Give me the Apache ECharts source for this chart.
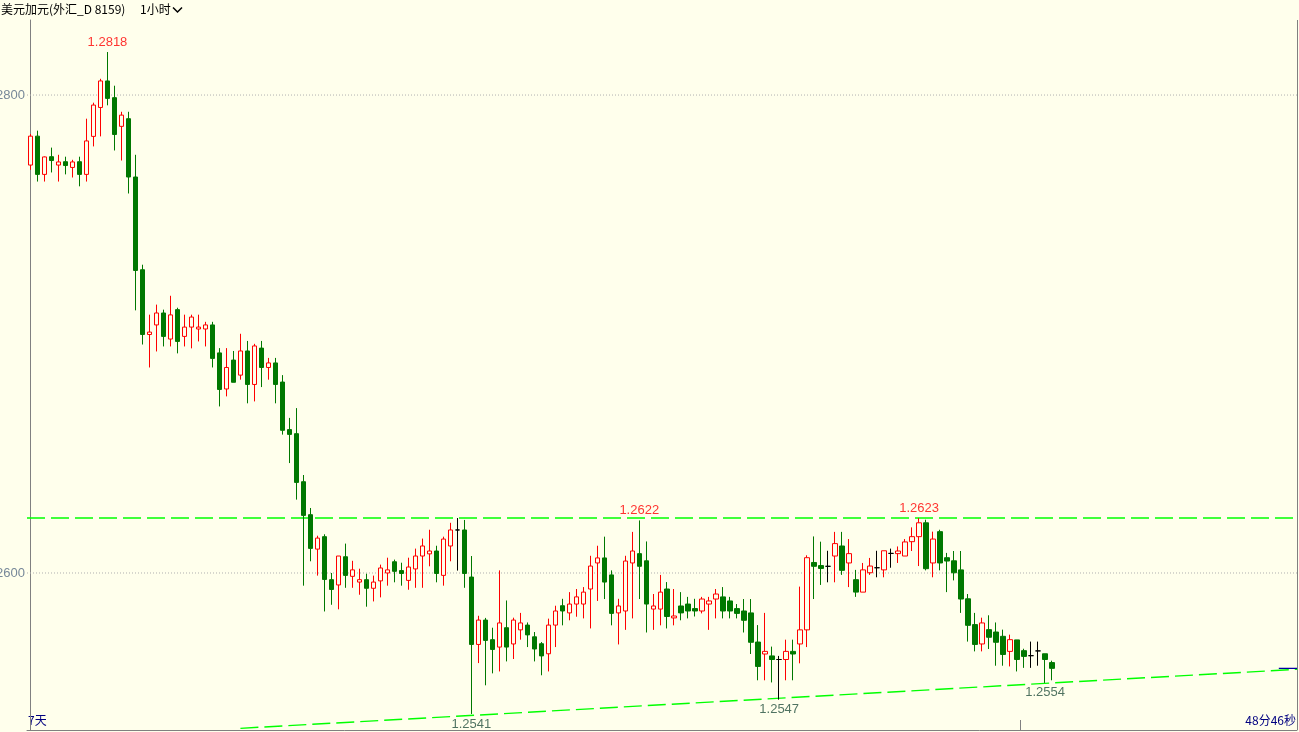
<!DOCTYPE html>
<html><head><meta charset="utf-8">
<script src="https://cdn.jsdelivr.net/npm/echarts@6/dist/echarts.min.js"></script>
<style>html,body{margin:0;padding:0;background:#FFFFEC;}#c{width:1299px;height:732px;}</style>
</head><body><div id="c"></div>
<script>
// ---- data (USD/CAD, 1 hour candles) ----
const opens = [
1.27707,1.27828,1.27668,1.27742,1.27707,1.27721,1.27697,1.27721,1.27668,1.27827,
1.27948,1.28059,1.27989,1.27869,1.27901,1.27657,1.27269,1.26998,1.27038,1.27088,
1.26979,1.27102,1.26990,1.27029,1.27021,1.27021,1.27038,1.26921,1.26770,1.26891,
1.26828,1.26929,1.26789,1.26941,1.26860,1.26879,1.26799,1.26600,1.26583,1.26382,
1.26244,1.26100,1.26152,1.25972,1.25950,1.26068,1.25986,1.25962,1.25972,1.25936,
1.25967,1.26000,1.26047,1.26010,1.25969,1.26017,1.26071,1.26080,1.26092,1.25990,
1.26113,1.26180,1.26180,1.25983,1.25701,1.25803,1.25721,1.25690,1.25771,1.25703,
1.25762,1.25782,1.25733,1.25704,1.25662,1.25782,1.25863,1.25833,1.25870,1.25870,
1.25933,1.26042,1.26063,1.25992,1.25833,1.25841,1.26042,1.26081,1.26051,1.25849,
1.25849,1.25933,1.25812,1.25862,1.25870,1.25851,1.25841,1.25870,1.25891,1.25900,
1.25883,1.25851,1.25841,1.25833,1.25711,1.25661,1.25653,1.25638,1.25638,1.25672,
1.25703,1.25762,1.26044,1.26031,1.26028,1.26071,1.26113,1.26042,1.25972,1.25920,
1.26001,1.26022,1.26013,1.26082,1.26081,1.26071,1.26131,1.26152,1.26210,1.26042,
1.26173,1.26064,1.26051,1.26013,1.25892,1.25784,1.25703,1.25763,1.25753,1.25735,
1.25672,1.25720,1.25675,1.25654,1.25674,1.25662,1.25625];
const closes = [
1.27828,1.27668,1.27741,1.27726,1.27720,1.27705,1.27720,1.27668,1.27808,1.27958,
1.28059,1.27986,1.27835,1.27916,1.27657,1.27266,1.26998,1.27008,1.27088,1.26990,
1.27080,1.26969,1.27029,1.27071,1.27029,1.27038,1.26898,1.26768,1.26860,1.26798,
1.26929,1.26789,1.26950,1.26860,1.26879,1.26789,1.26597,1.26580,1.26379,1.26241,
1.26103,1.26146,1.25973,1.25931,1.26071,1.25990,1.26013,1.25972,1.25936,1.25962,
1.26021,1.26013,1.26007,1.25998,1.26025,1.26071,1.26113,1.26092,1.25998,1.26142,
1.26180,1.26180,1.25998,1.25701,1.25803,1.25718,1.25680,1.25791,1.25690,1.25803,
1.25791,1.25741,1.25682,1.25653,1.25782,1.25841,1.25841,1.25870,1.25900,1.25920,
1.26029,1.26063,1.25962,1.25831,1.25862,1.26050,1.26092,1.26028,1.25870,1.25862,
1.25920,1.25818,1.25820,1.25833,1.25841,1.25841,1.25891,1.25883,1.25912,1.25841,
1.25841,1.25831,1.25802,1.25710,1.25609,1.25672,1.25638,1.25638,1.25672,1.25661,
1.25762,1.26064,1.26028,1.26019,1.26028,1.26123,1.26011,1.26081,1.25920,1.26013,
1.26029,1.26022,1.26093,1.26082,1.26092,1.26130,1.26152,1.26210,1.26018,1.26142,
1.26042,1.26050,1.26001,1.25891,1.25781,1.25701,1.25791,1.25731,1.25710,1.25659,
1.25721,1.25638,1.25651,1.25654,1.25674,1.25638,1.25601];
const lows = [
1.27687,1.27638,1.27638,1.27676,1.27638,1.27668,1.27655,1.27618,1.27638,1.27785,
1.27827,1.27957,1.27768,1.27726,1.27588,1.27099,1.26956,1.26860,1.26927,1.26948,
1.26948,1.26919,1.26948,1.26940,1.26969,1.26948,1.26860,1.26697,1.26739,1.26798,
1.26809,1.26710,1.26718,1.26778,1.26809,1.26710,1.26579,1.26460,1.26307,1.25947,
1.26049,1.25989,1.25839,1.25867,1.25848,1.25938,1.25938,1.25909,1.25859,1.25881,
1.25898,1.25947,1.25961,1.25947,1.25930,1.25938,1.25938,1.26028,1.25961,1.25947,
1.26049,1.26010,1.25938,1.25410,1.25623,1.25530,1.25580,1.25588,1.25630,1.25640,
1.25721,1.25690,1.25630,1.25572,1.25588,1.25690,1.25781,1.25802,1.25817,1.25810,
1.25768,1.25883,1.25891,1.25781,1.25701,1.25762,1.25810,1.25891,1.25751,1.25762,
1.25781,1.25768,1.25781,1.25802,1.25810,1.25818,1.25831,1.25762,1.25810,1.25810,
1.25810,1.25810,1.25751,1.25661,1.25551,1.25551,1.25542,1.25470,1.25551,1.25551,
1.25622,1.25690,1.25891,1.25950,1.25961,1.25961,1.25992,1.25941,1.25900,1.25920,
1.25992,1.25982,1.25982,1.26022,1.26042,1.26071,1.26092,1.26029,1.26011,1.25982,
1.26011,1.25920,1.25969,1.25833,1.25713,1.25672,1.25672,1.25682,1.25612,1.25612,
1.25609,1.25588,1.25603,1.25603,1.25612,1.25540,1.25551];
const highs = [
1.27837,1.27851,1.27743,1.27780,1.27750,1.27742,1.27729,1.27742,1.27901,1.27968,
1.28068,1.28180,1.28039,1.27930,1.27930,1.27750,1.27290,1.27081,1.27123,1.27102,
1.27160,1.27110,1.27081,1.27081,1.27081,1.27051,1.27051,1.26941,1.26941,1.26929,
1.27001,1.26971,1.26959,1.26971,1.26900,1.26900,1.26828,1.26649,1.26690,1.26410,
1.26272,1.26156,1.26162,1.26000,1.26071,1.26123,1.26051,1.26018,1.25997,1.25989,
1.26035,1.26064,1.26056,1.26043,1.26064,1.26102,1.26144,1.26181,1.26114,1.26152,
1.26210,1.26230,1.26222,1.26071,1.25821,1.25812,1.25771,1.26011,1.25885,1.25813,
1.25833,1.25793,1.25753,1.25711,1.25809,1.25863,1.25892,1.25920,1.25933,1.25941,
1.26072,1.26114,1.26152,1.26011,1.25892,1.26072,1.26172,1.26220,1.26132,1.25912,
1.25992,1.25962,1.25933,1.25920,1.25900,1.25892,1.25900,1.25900,1.25933,1.25941,
1.25900,1.25870,1.25891,1.25891,1.25782,1.25833,1.25692,1.25653,1.25721,1.25721,
1.25943,1.26074,1.26153,1.26131,1.26093,1.26172,1.26172,1.26142,1.26013,1.26042,
1.26063,1.26093,1.26093,1.26102,1.26111,1.26142,1.26191,1.26230,1.26223,1.26173,
1.26181,1.26084,1.26092,1.26092,1.25912,1.25833,1.25813,1.25823,1.25793,1.25763,
1.25742,1.25720,1.25683,1.25713,1.25713,1.25662,1.25633];

const gridValues = [1.26, 1.28];          // dotted grid / axis labels
const resistance = 1.2623;                // horizontal dashed line
const trendX = [30, 181];                 // sloped support line (bar index)
const trendY = [1.25350, 1.25597];
const highLabelIdx = [11, 87, 127];
const highLabelVal = [1.2818, 1.2622, 1.2623];
const lowLabelIdx = [63, 107, 145];
const lowLabelVal = [1.2541, 1.2547, 1.2554];
const markerX = [178.4, 181];             // current price marker span
const spanX = [-0.5, 181];                // full width of the plot in bar units
const titleText = '美元加元(外汇_D 8159)';
const periodText = '1小时';
const leftNote = '7天';
const rightNote = '48分46秒';

// ---- chart ----
const BG = '#FFFFEC';
const candles = opens.map((o, i) => [i, o, closes[i], lows[i], highs[i]]);
const lastClose = closes[closes.length - 1];
const chart = echarts.init(document.getElementById('c'), null, {renderer: 'canvas'});

function hLine(v, style) {
  return {type: 'line', silent: true, symbol: 'none', z: 1,
    data: spanX.map(x => [x, v]), lineStyle: style};
}

const option = {
  backgroundColor: BG,
  animation: false,
  grid: {left: 27, right: 2, top: 20, bottom: 2, containLabel: false, outerBoundsMode: 'none'},
  xAxis: {
    type: 'value', min: spanX[0], max: spanX[1],
    axisLine: {show: true, onZero: false, lineStyle: {color: '#808080', width: 1}},
    axisTick: {show: false}, axisLabel: {show: false}, splitLine: {show: false}
  },
  yAxis: {
    type: 'value', min: 1.25343, max: 1.28314, scale: true,
    axisLine: {show: true, lineStyle: {color: '#808080', width: 1}},
    axisTick: {show: false},
    splitLine: {show: false},
    axisLabel: {
      customValues: gridValues,
      formatter: v => v.toFixed(4),
      color: '#778899', fontSize: 13, fontFamily: 'Liberation Sans', margin: 2
    }
  },
  series: [
    ...gridValues.map(v => hLine(v, {type: [1, 2], color: '#b0b0b0', width: 1})),
    hLine(resistance, {type: [18, 6], color: '#00FF00', width: 1.4}),
    {
      type: 'line', silent: true, symbol: 'none', z: 1,
      data: trendX.map((x, i) => [x, trendY[i]]),
      lineStyle: {color: '#00FF00', width: 1.4, type: [18, 6]}
    },
    {
      type: 'line', silent: true, symbol: 'none', z: 3,
      data: markerX.map(x => [x, lastClose]),
      lineStyle: {color: '#0000A0', width: 1.2, type: 'solid'}
    },
    {
      type: 'candlestick',
      data: candles,
      barWidth: 5, z: 2,
      itemStyle: {
        color: BG, color0: '#007800',
        borderColor: '#FF0000', borderColor0: '#007800',
        borderColorDoji: '#000000', borderWidth: 1
      }
    },
    {
      type: 'scatter', silent: true, symbolSize: 1,
      itemStyle: {color: 'rgba(0,0,0,0)'},
      data: highLabelIdx.map((x, i) => [x, highLabelVal[i]]),
      label: {show: true, position: 'top', distance: 3,
        formatter: p => p.value[1].toFixed(4),
        color: '#FF0000', fontSize: 13, fontFamily: 'Liberation Sans'}
    },
    {
      type: 'scatter', silent: true, symbolSize: 1,
      itemStyle: {color: 'rgba(0,0,0,0)'},
      data: lowLabelIdx.map((x, i) => [x, lowLabelVal[i]]),
      label: {show: true, position: 'bottom', distance: 3,
        formatter: p => p.value[1].toFixed(4),
        color: '#24503F', fontSize: 13, fontFamily: 'Liberation Sans'}
    }
  ],
  graphic: [
    {type: 'text', left: 1, top: 3, style: {text: titleText, font: '12px "Noto Sans CJK SC"', fill: '#000'}},
    {type: 'text', left: 140, top: 3, style: {text: periodText, font: '12px "Noto Sans CJK SC"', fill: '#000'}},
    {type: 'polyline', shape: {points: [[173, 7.5], [177.5, 12], [182, 7.5]]}, style: {stroke: '#000', lineWidth: 1.5, fill: null}},
    {type: 'line', shape: {x1: 1297.5, y1: 20, x2: 1297.5, y2: 730}, style: {stroke: '#808080', lineWidth: 1}},
    {type: 'line', shape: {x1: 1020.5, y1: 720, x2: 1020.5, y2: 730}, style: {stroke: '#808080', lineWidth: 1}},
    {type: 'text', left: 28, top: 714, style: {text: leftNote, font: '12px "Noto Sans CJK SC"', fill: '#000080'}},
    {type: 'text', right: 3, top: 714, style: {text: rightNote, font: '12px "Noto Sans CJK SC"', fill: '#000080'}}
  ]
};
chart.setOption(option);
</script>
</body></html>
